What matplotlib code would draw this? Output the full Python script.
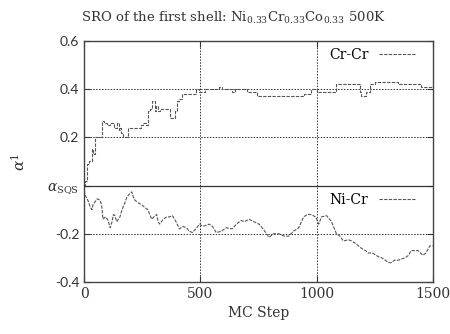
import matplotlib
matplotlib.use("Agg")
import matplotlib.pyplot as plt

plt.rcParams['font.family'] = 'DejaVu Serif'
plt.rcParams['mathtext.fontset'] = 'dejavuserif'

# Cr-Cr pair SRO (first shell)
crcr_step = [0, 4, 13, 20, 34, 40, 47, 60, 77, 85, 98, 110, 120, 130, 141, 150,
             154, 160, 167, 175, 188, 210, 231, 245, 252, 265, 274, 282, 290,
             303, 310, 316, 325, 338, 355, 368, 380, 389, 400, 410, 419, 432,
             450, 466, 483, 496, 520, 550, 581, 594, 620, 637, 650, 700, 722,
             744, 782, 850, 900, 936, 944, 974, 1000, 1050, 1081, 1085, 1130,
             1179, 1188, 1192, 1214, 1231, 1252, 1300, 1338, 1350, 1400, 1450,
             1487, 1500]
crcr_val = [0.00, 0.02, 0.09, 0.10, 0.15, 0.13, 0.20, 0.20, 0.27, 0.26, 0.25,
            0.26, 0.26, 0.24, 0.26, 0.23, 0.24, 0.22, 0.20, 0.20, 0.24, 0.24,
            0.24, 0.25, 0.26, 0.25, 0.31, 0.32, 0.35, 0.31, 0.33, 0.31, 0.32,
            0.32, 0.32, 0.28, 0.28, 0.31, 0.35, 0.36, 0.38, 0.38, 0.38, 0.38,
            0.40, 0.39, 0.40, 0.40, 0.41, 0.40, 0.40, 0.39, 0.40, 0.39, 0.39,
            0.37, 0.37, 0.37, 0.37, 0.37, 0.38, 0.40, 0.39, 0.39, 0.39, 0.42,
            0.42, 0.42, 0.39, 0.37, 0.39, 0.42, 0.43, 0.43, 0.43, 0.42, 0.42,
            0.41, 0.41, 0.41]

# Ni-Cr pair SRO (first shell)
nicr_step = [0, 4, 13, 20, 26, 34, 38, 45, 56, 68, 75, 81, 92, 103, 112, 120,
             126, 132, 140, 154, 160, 167, 176, 184, 195, 205, 212, 218, 230,
             248, 260, 274, 282, 291, 300, 312, 318, 325, 340, 355, 368, 380,
             395, 410, 425, 440, 452, 466, 480, 496, 510, 538, 552, 568, 590,
             611, 637, 655, 675, 690, 709, 730, 752, 770, 795, 815, 838, 860,
             880, 900, 923, 944, 960, 974, 996, 1009, 1021, 1043, 1064, 1085,
             1100, 1115, 1137, 1150, 1167, 1192, 1210, 1222, 1240, 1265, 1280,
             1295, 1310, 1321, 1335, 1350, 1380, 1395, 1406, 1420, 1436, 1457,
             1470, 1487, 1500]
nicr_val = [-0.02, -0.04, -0.055, -0.07, -0.09, -0.10, -0.08, -0.07, -0.055,
            -0.06, -0.08, -0.14, -0.13, -0.145, -0.175, -0.15, -0.12, -0.125,
            -0.15, -0.13, -0.11, -0.09, -0.07, -0.047, -0.035, -0.026, -0.05,
            -0.06, -0.07, -0.08, -0.09, -0.10, -0.12, -0.14, -0.13, -0.12,
            -0.15, -0.16, -0.14, -0.13, -0.13, -0.125, -0.15, -0.18, -0.17,
            -0.175, -0.19, -0.195, -0.18, -0.16, -0.17, -0.16, -0.17, -0.195,
            -0.19, -0.175, -0.18, -0.16, -0.145, -0.15, -0.14, -0.15, -0.16,
            -0.18, -0.215, -0.20, -0.20, -0.21, -0.21, -0.19, -0.175, -0.13,
            -0.12, -0.12, -0.13, -0.16, -0.13, -0.125, -0.15, -0.20, -0.21,
            -0.23, -0.225, -0.23, -0.24, -0.26, -0.27, -0.28, -0.28, -0.295,
            -0.30, -0.31, -0.32, -0.32, -0.31, -0.31, -0.30, -0.29, -0.27,
            -0.27, -0.27, -0.29, -0.28, -0.25, -0.25]

yticks = [-0.4, -0.2, 0.0, 0.2, 0.4, 0.6]
ytick_labels = ['-0.4', '-0.2', r'$\alpha_{\rm SQS}$', '0.2', '0.4', '0.6']
xticks = [0, 500, 1000, 1500]

fig = plt.figure(figsize=(4.5, 3.34), dpi=100)
ax = fig.add_axes([0.187, 0.156, 0.775, 0.721])

dash = dict(color='#555555', lw=0.8, linestyle=(0, (3, 1.2)))
line_cr, = ax.plot(crcr_step, crcr_val, drawstyle='steps-post', **dash)
line_ni, = ax.plot(nicr_step, nicr_val, **dash)

ax.axhline(0.0, color='#333333', lw=0.9)
for y in [-0.2, 0.2, 0.4]:
    ax.axhline(y, color='#333333', lw=0.7, linestyle=(0, (1.5, 1.5)), zorder=0)
for x in [500, 1000]:
    ax.axvline(x, color='#333333', lw=0.7, linestyle=(0, (1.5, 1.5)), zorder=0)

ax.set_xlim(0, 1500)
ax.set_ylim(-0.4, 0.6)
ax.set_xticks(xticks)
ax.set_yticks(yticks)
ax.set_yticklabels(ytick_labels)
for lab in ax.get_yticklabels():
    if lab.get_text() != r'$\alpha_{\rm SQS}$':
        lab.set_family('Lato')
ax.tick_params(direction='in', top=True, right=True, labelsize=10, length=4,
               width=0.8, colors='#333333', labelcolor='#333333')
for s in ax.spines.values():
    s.set_color('#444444')
    s.set_linewidth(1.0)

ax.set_xlabel('MC Step', fontsize=10, color='#333333')
ax.set_ylabel(r'$\alpha^1$', fontsize=11, color='#333333', labelpad=14)
fig.text(0.518, 0.935,
         r'SRO of the first shell: Ni$_{0.33}$Cr$_{0.33}$Co$_{0.33}$ 500K',
         fontsize=9.5, color='#333333', ha='center', va='baseline')

leg1 = ax.legend([line_cr], ['Cr-Cr'], loc='upper right', frameon=False,
                 markerfirst=False, fontsize=10, handlelength=2.6,
                 bbox_to_anchor=(0.97, 1.0), borderaxespad=0.1)
ax.add_artist(leg1)
ax.legend([line_ni], ['Ni-Cr'], loc='upper right', frameon=False,
          markerfirst=False, fontsize=10, handlelength=2.6,
          bbox_to_anchor=(0.97, 0.40), borderaxespad=0.1)

fig.savefig('out.png', dpi=100)
